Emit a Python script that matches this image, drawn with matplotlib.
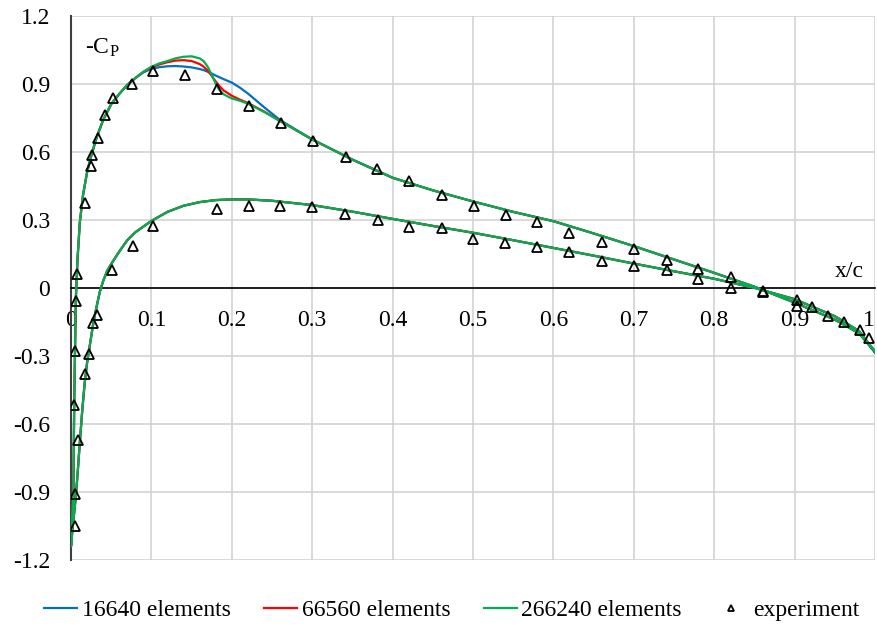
import numpy as np
import matplotlib
matplotlib.use("Agg")
import matplotlib.pyplot as plt

plt.rcParams['font.family'] = ['Liberation Serif', 'DejaVu Serif']
plt.rcParams['mathtext.fontset'] = 'stix'
plt.rcParams['axes.unicode_minus'] = False

# upper surface (leading edge -> trailing edge)
x_upper = [0.0, 0.003, 0.004, 0.006, 0.008, 0.011, 0.015, 0.02, 0.025, 0.032,
           0.04, 0.05, 0.06, 0.07, 0.08, 0.09, 0.1, 0.11, 0.12, 0.13,
           0.14, 0.15, 0.16, 0.165, 0.17, 0.175, 0.18, 0.185, 0.19, 0.2,
           0.21, 0.22, 0.24, 0.26, 0.28, 0.3, 0.35, 0.4, 0.45, 0.5,
           0.55, 0.6, 0.65, 0.7, 0.75, 0.8, 0.85, 0.9, 0.95, 0.98, 1.0]
cp_upper_16640 = [-1.14, -0.9, -0.5, -0.05, 0.12, 0.29, 0.41, 0.51, 0.58, 0.665,
                  0.74, 0.81, 0.855, 0.895, 0.925, 0.95, 0.966, 0.973, 0.977, 0.978,
                  0.976, 0.972, 0.965, 0.96, 0.953, 0.945, 0.936, 0.928, 0.92, 0.905,
                  0.883, 0.857, 0.797, 0.74, 0.697, 0.655, 0.566, 0.486, 0.43, 0.381,
                  0.335, 0.294, 0.24, 0.184, 0.125, 0.066, 0.005, -0.065, -0.14, -0.2, -0.285]
cp_upper_66560 = [-1.14, -0.9, -0.5, -0.05, 0.12, 0.29, 0.41, 0.51, 0.58, 0.665,
                  0.74, 0.81, 0.855, 0.895, 0.925, 0.952, 0.972, 0.985, 0.995, 1.002,
                  1.004, 1.0, 0.987, 0.975, 0.958, 0.935, 0.91, 0.888, 0.87, 0.847,
                  0.83, 0.815, 0.778, 0.736, 0.695, 0.654, 0.565, 0.485, 0.43, 0.381,
                  0.335, 0.294, 0.24, 0.184, 0.125, 0.066, 0.005, -0.065, -0.14, -0.2, -0.28]
cp_upper_266240 = [-1.14, -0.9, -0.5, -0.05, 0.12, 0.29, 0.41, 0.51, 0.58, 0.665,
                   0.74, 0.81, 0.855, 0.895, 0.925, 0.953, 0.975, 0.99, 1.0, 1.012,
                   1.019, 1.021, 1.012, 1.0, 0.975, 0.94, 0.9, 0.87, 0.853, 0.835,
                   0.825, 0.812, 0.776, 0.735, 0.695, 0.654, 0.565, 0.485, 0.43, 0.381,
                   0.335, 0.294, 0.24, 0.184, 0.125, 0.066, 0.005, -0.065, -0.14, -0.2, -0.28]

# lower surface (leading edge -> trailing edge)
x_lower = [0.0, 0.002, 0.004, 0.006, 0.008, 0.011, 0.014, 0.017, 0.02, 0.024,
           0.028, 0.032, 0.036, 0.04, 0.045, 0.05, 0.06, 0.07, 0.08, 0.09,
           0.1, 0.12, 0.14, 0.16, 0.18, 0.2, 0.22, 0.25, 0.3, 0.35,
           0.4, 0.45, 0.5, 0.55, 0.6, 0.65, 0.7, 0.75, 0.8, 0.85,
           0.9, 0.95, 0.98, 1.0]
cp_lower_16640 = [-1.14, -1.06, -0.99, -0.92, -0.83, -0.68, -0.54, -0.42, -0.33, -0.24,
                  -0.15, -0.08, -0.015, 0.03, 0.075, 0.105, 0.16, 0.21, 0.245, 0.27,
                  0.295, 0.335, 0.362, 0.378, 0.387, 0.39, 0.39, 0.384, 0.365, 0.336,
                  0.304, 0.273, 0.243, 0.21, 0.176, 0.142, 0.107, 0.073, 0.04, 0.0,
                  -0.05, -0.125, -0.19, -0.285]
cp_lower_66560 = [-1.14, -1.06, -0.99, -0.92, -0.83, -0.68, -0.54, -0.42, -0.33, -0.24,
                  -0.15, -0.08, -0.015, 0.03, 0.075, 0.105, 0.16, 0.21, 0.245, 0.27,
                  0.295, 0.335, 0.362, 0.378, 0.387, 0.39, 0.39, 0.384, 0.365, 0.336,
                  0.304, 0.273, 0.243, 0.21, 0.176, 0.142, 0.107, 0.073, 0.04, 0.0,
                  -0.05, -0.125, -0.19, -0.28]
cp_lower_266240 = [-1.14, -1.06, -0.99, -0.92, -0.83, -0.68, -0.54, -0.42, -0.33, -0.24,
                   -0.15, -0.08, -0.015, 0.03, 0.075, 0.105, 0.16, 0.21, 0.245, 0.27,
                   0.295, 0.335, 0.362, 0.378, 0.387, 0.39, 0.39, 0.384, 0.365, 0.336,
                   0.304, 0.273, 0.243, 0.21, 0.176, 0.142, 0.107, 0.073, 0.04, 0.0,
                   -0.05, -0.125, -0.19, -0.28]

# experiment
x_exp = [0.005, 0.005, 0.009, 0.004, 0.017, 0.005, 0.022, 0.027, 0.032, 0.006,
         0.008, 0.051, 0.077, 0.102, 0.017, 0.0245, 0.026, 0.033, 0.042, 0.052,
         0.076, 0.102, 0.142, 0.182, 0.221, 0.261, 0.301, 0.342, 0.381, 0.421,
         0.461, 0.501, 0.541, 0.58, 0.62, 0.661, 0.70, 0.741, 0.78, 0.821,
         0.861, 0.182, 0.221, 0.26, 0.30, 0.341, 0.382, 0.42, 0.462, 0.50,
         0.54, 0.58, 0.62, 0.661, 0.70, 0.741, 0.78, 0.821, 0.861, 0.903,
         0.903, 0.922, 0.941, 0.962, 0.981, 0.993]
cp_exp = [-1.05, -0.91, -0.67, -0.515, -0.38, -0.28, -0.29, -0.155, -0.118, -0.058,
          0.059, 0.078, 0.183, 0.272, 0.372, 0.536, 0.585, 0.66, 0.76, 0.838,
          0.90, 0.958, 0.94, 0.875, 0.804, 0.725, 0.647, 0.578, 0.526, 0.473,
          0.41, 0.363, 0.323, 0.289, 0.24, 0.203, 0.172, 0.125, 0.084, 0.049,
          -0.015, 0.348, 0.36, 0.363, 0.357, 0.325, 0.30, 0.27, 0.263, 0.214,
          0.198, 0.179, 0.157, 0.117, 0.095, 0.079, 0.04, 0.0, -0.02, -0.052,
          -0.078, -0.084, -0.122, -0.152, -0.187, -0.221]

series = [
    ("16640 elements", "#0070C0", cp_upper_16640, cp_lower_16640),
    ("66560 elements", "#FF0000", cp_upper_66560, cp_lower_66560),
    ("266240 elements", "#00B050", cp_upper_266240, cp_lower_266240),
]

fs = 17

fig = plt.figure(figsize=(8.77, 6.32), dpi=100)
ax = fig.add_axes([71 / 877, 1 - 560 / 632, 804 / 877, 544.3 / 632])

for label, color, up, lo in series:
    xs = list(reversed(x_upper)) + x_lower
    ys = list(reversed(up)) + lo
    ax.plot(xs, ys, color=color, lw=1.6, label=label, zorder=3)

ax.plot(x_exp, cp_exp, linestyle='none', marker='^', ms=6.8, mfc='none',
        mec='black', mew=1.3, label='experiment', zorder=4)

ax.set_xlim(0, 1)
ax.set_ylim(-1.2, 1.2)
xt = np.round(np.arange(0, 1.01, 0.1), 1)
yt = np.round(np.arange(-1.2, 1.21, 0.3), 1)
ax.set_xticks(xt)
ax.set_xticklabels(['0' if v == 0 else ('1' if v == 1 else f'{v:g}') for v in xt])
ax.set_yticks(yt)
ax.set_yticklabels(['0' if v == 0 else f'{v:g}' for v in yt])
ax.grid(True, color='#d0d0d0', lw=1.1, zorder=0)
ax.set_axisbelow(True)

for s in ['top', 'right']:
    ax.spines[s].set_visible(False)
ax.spines['bottom'].set_position(('data', 0))
ax.spines['bottom'].set_color('black')
ax.spines['bottom'].set_linewidth(1.2)
ax.spines['left'].set_color('#404040')
ax.spines['left'].set_linewidth(1.5)
ax.tick_params(axis='x', length=0, pad=16, labelsize=fs)
ax.tick_params(axis='y', length=0, pad=15, labelsize=fs)
# keep the last x label inside the figure
ax.xaxis.get_major_ticks()[-1].label1.set_horizontalalignment('right')

ax.text(0.018, 1.06, r'-C$_\mathregular{P}$', fontsize=fs, ha='left', va='center')
ax.text(0.968, 0.07, 'x/c', fontsize=fs, ha='center', va='center')

fig.legend(loc='center', bbox_to_anchor=(0.515, 1 - 610 / 632), ncol=4,
           frameon=False, fontsize=fs, handlelength=1.4, handletextpad=0.2,
           columnspacing=1.4, markerscale=0.7)

fig.savefig('out.png', dpi=100)
